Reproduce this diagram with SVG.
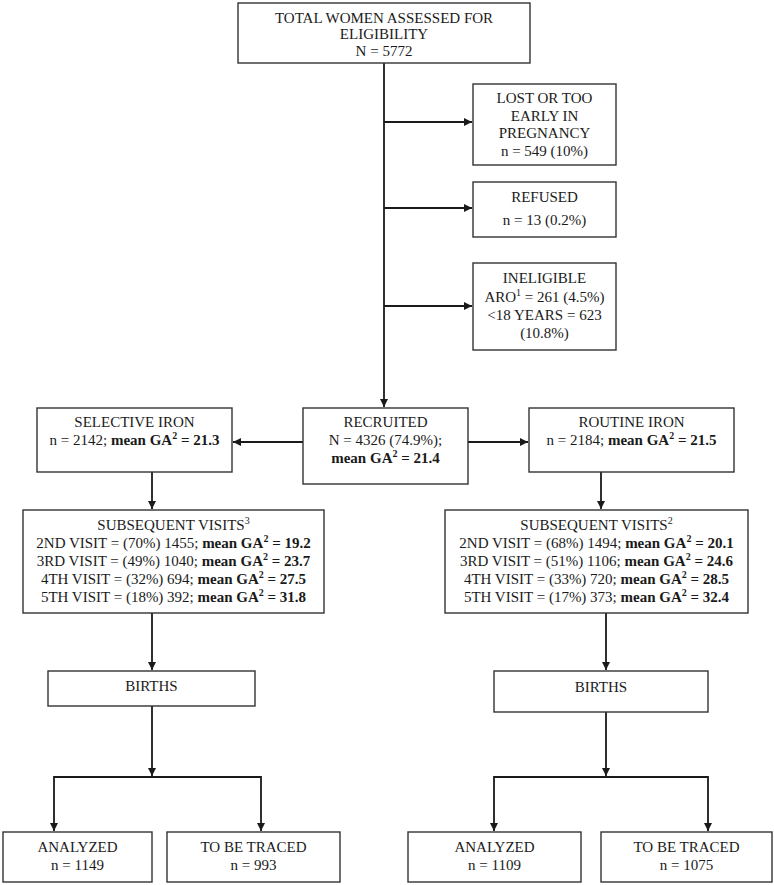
<svg xmlns="http://www.w3.org/2000/svg" width="774" height="885" viewBox="0 0 774 885">
<style>
.box{fill:#fff;stroke:#333;stroke-width:1.4}
.t{font-family:"Liberation Serif","Times New Roman",serif;font-size:15px;fill:#1a1a1a;text-anchor:middle}
.b{font-weight:bold}
.sup{font-size:10px}
.c{fill:none;stroke:#1a1a1a;stroke-width:1.8}
</style>
<defs>
<marker id="ah" viewBox="0 0 10 10" refX="10" refY="5" markerWidth="9" markerHeight="8" markerUnits="userSpaceOnUse" orient="auto">
<path d="M0,0 L10,5 L0,10 z" fill="#1a1a1a"/>
</marker>
</defs>
<rect width="774" height="885" fill="#fff"/>
<g id="connectors">
<path class="c" d="M384,63 V407" marker-end="url(#ah)"/>
<path class="c" d="M384,122 H472" marker-end="url(#ah)"/>
<path class="c" d="M384,208 H472" marker-end="url(#ah)"/>
<path class="c" d="M384,306 H472" marker-end="url(#ah)"/>
<path class="c" d="M303,442 H233" marker-end="url(#ah)"/>
<path class="c" d="M468,442 H528" marker-end="url(#ah)"/>
<path class="c" d="M152,472 V509" marker-end="url(#ah)"/>
<path class="c" d="M601,472 V509" marker-end="url(#ah)"/>
<path class="c" d="M152,613 V670" marker-end="url(#ah)"/>
<path class="c" d="M606,613 V670" marker-end="url(#ah)"/>
<path class="c" d="M152,706 V776" marker-end="url(#ah)"/>
<path class="c" d="M152,777 H54 V831" marker-end="url(#ah)"/>
<path class="c" d="M152,777 H261 V831" marker-end="url(#ah)"/>
<path class="c" d="M606,712 V776" marker-end="url(#ah)"/>
<path class="c" d="M606,777 H494 V831" marker-end="url(#ah)"/>
<path class="c" d="M606,777 H708 V831" marker-end="url(#ah)"/>
</g>
<g id="total">
<rect class="box" x="238" y="3" width="292" height="60"/>
<text class="t" x="384" y="23">TOTAL WOMEN ASSESSED FOR</text>
<text class="t" x="384" y="39">ELIGIBILITY</text>
<text class="t" x="384" y="56">N = 5772</text>
</g>
<g id="lost">
<rect class="box" x="473" y="84" width="143" height="81"/>
<text class="t" x="544.5" y="103">LOST OR TOO</text>
<text class="t" x="544.5" y="121">EARLY IN</text>
<text class="t" x="544.5" y="138">PREGNANCY</text>
<text class="t" x="544.5" y="156">n = 549 (10%)</text>
</g>
<g id="refused">
<rect class="box" x="473" y="182" width="143" height="55"/>
<text class="t" x="544.5" y="202">REFUSED</text>
<text class="t" x="544.5" y="225">n = 13 (0.2%)</text>
</g>
<g id="ineligible">
<rect class="box" x="473" y="263" width="143" height="87"/>
<text class="t" x="544.5" y="283">INELIGIBLE</text>
<text class="t" x="544.5" y="302">ARO<tspan class="sup" dy="-6">1</tspan><tspan dy="6"> = 261 (4.5%)</tspan></text>
<text class="t" x="544.5" y="320">&lt;18 YEARS = 623</text>
<text class="t" x="544.5" y="338">(10.8%)</text>
</g>
<g id="selective">
<rect class="box" x="37" y="408" width="195" height="64"/>
<text class="t" x="134.5" y="427">SELECTIVE IRON</text>
<text class="t" x="134.5" y="445">n = 2142; <tspan class="b">mean GA</tspan><tspan class="sup b" dy="-6">2</tspan><tspan class="b" dy="6"> = 21.3</tspan></text>
</g>
<g id="recruited">
<rect class="box" x="303" y="408" width="165" height="76"/>
<text class="t" x="385.5" y="427">RECRUITED</text>
<text class="t" x="385.5" y="445">N = 4326 (74.9%);</text>
<text class="t b" x="385.5" y="463">mean GA<tspan class="sup" dy="-6">2</tspan><tspan dy="6"> = 21.4</tspan></text>
</g>
<g id="routine">
<rect class="box" x="529" y="408" width="205" height="64"/>
<text class="t" x="631.5" y="427">ROUTINE IRON</text>
<text class="t" x="631.5" y="445">n = 2184; <tspan class="b">mean GA</tspan><tspan class="sup b" dy="-6">2</tspan><tspan class="b" dy="6"> = 21.5</tspan></text>
</g>
<g id="visits-selective">
<rect class="box" x="23" y="510" width="301" height="103"/>
<text class="t" x="173.5" y="530">SUBSEQUENT VISITS<tspan class="sup" dy="-6">3</tspan></text>
<text class="t" x="173.5" y="548">2ND VISIT = (70%) 1455; <tspan class="b">mean GA</tspan><tspan class="sup b" dy="-6">2</tspan><tspan class="b" dy="6"> = 19.2</tspan></text>
<text class="t" x="173.5" y="566">3RD VISIT = (49%) 1040; <tspan class="b">mean GA</tspan><tspan class="sup b" dy="-6">2</tspan><tspan class="b" dy="6"> = 23.7</tspan></text>
<text class="t" x="173.5" y="584">4TH VISIT = (32%) 694; <tspan class="b">mean GA</tspan><tspan class="sup b" dy="-6">2</tspan><tspan class="b" dy="6"> = 27.5</tspan></text>
<text class="t" x="173.5" y="602">5TH VISIT = (18%) 392; <tspan class="b">mean GA</tspan><tspan class="sup b" dy="-6">2</tspan><tspan class="b" dy="6"> = 31.8</tspan></text>
</g>
<g id="visits-routine">
<rect class="box" x="445" y="510" width="303" height="103"/>
<text class="t" x="596.5" y="530">SUBSEQUENT VISITS<tspan class="sup" dy="-6">2</tspan></text>
<text class="t" x="596.5" y="548">2ND VISIT = (68%) 1494; <tspan class="b">mean GA</tspan><tspan class="sup b" dy="-6">2</tspan><tspan class="b" dy="6"> = 20.1</tspan></text>
<text class="t" x="596.5" y="566">3RD VISIT = (51%) 1106; <tspan class="b">mean GA</tspan><tspan class="sup b" dy="-6">2</tspan><tspan class="b" dy="6"> = 24.6</tspan></text>
<text class="t" x="596.5" y="584">4TH VISIT = (33%) 720; <tspan class="b">mean GA</tspan><tspan class="sup b" dy="-6">2</tspan><tspan class="b" dy="6"> = 28.5</tspan></text>
<text class="t" x="596.5" y="602">5TH VISIT = (17%) 373; <tspan class="b">mean GA</tspan><tspan class="sup b" dy="-6">2</tspan><tspan class="b" dy="6"> = 32.4</tspan></text>
</g>
<g id="births-selective">
<rect class="box" x="48" y="671" width="207" height="35"/>
<text class="t" x="151.5" y="691">BIRTHS</text>
</g>
<g id="births-routine">
<rect class="box" x="494" y="671" width="214" height="41"/>
<text class="t" x="601" y="692">BIRTHS</text>
</g>
<g id="analyzed-selective">
<rect class="box" x="3" y="832" width="149" height="50"/>
<text class="t" x="77.5" y="852">ANALYZED</text>
<text class="t" x="77.5" y="870">n = 1149</text>
</g>
<g id="traced-selective">
<rect class="box" x="167" y="832" width="173" height="50"/>
<text class="t" x="253.5" y="852">TO BE TRACED</text>
<text class="t" x="253.5" y="870">n = 993</text>
</g>
<g id="analyzed-routine">
<rect class="box" x="408" y="832" width="173" height="50"/>
<text class="t" x="494.5" y="852">ANALYZED</text>
<text class="t" x="494.5" y="870">n = 1109</text>
</g>
<g id="traced-routine">
<rect class="box" x="601" y="832" width="171" height="50"/>
<text class="t" x="686.5" y="852">TO BE TRACED</text>
<text class="t" x="686.5" y="870">n = 1075</text>
</g>
</svg>
